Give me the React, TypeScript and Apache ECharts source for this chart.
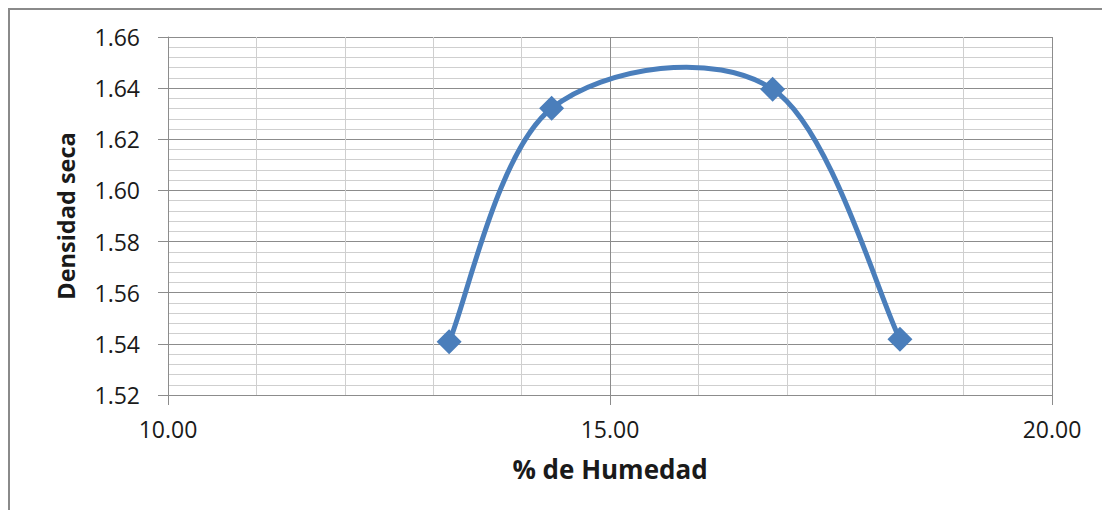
import React, { useEffect, useRef } from "react";
import * as echarts from "echarts";

const humedad = [13.18, 14.34, 16.84, 18.28];
const densidad = [1.5408, 1.6321, 1.6396, 1.5418];
const xTitle = "% de Humedad";
const yTitle = "Densidad seca";

const BLUE = "#4A7EBB";
const FONT = "'Open Sans', sans-serif";

export default function App() {
  const ref = useRef<HTMLDivElement>(null);
  useEffect(() => {
    if (!ref.current) return;
    const chart = echarts.init(ref.current, undefined, { renderer: "svg" });
    const pts = humedad.map((x, i) => [x, densidad[i]]);
    const option: any = {
      animation: false,
      backgroundColor: "#ffffff",
      grid: { left: 160, right: 50, top: 29, bottom: 115, containLabel: false },
      graphic: [
        { type: "line", shape: { x1: 1, y1: 0, x2: 1, y2: 600 }, style: { stroke: "#8a8a8a", lineWidth: 2 } },
        { type: "line", shape: { x1: 0, y1: 1, x2: 1200, y2: 1 }, style: { stroke: "#8a8a8a", lineWidth: 2 } },
      ],
      xAxis: {
        type: "value",
        min: 10,
        max: 20,
        interval: 5,
        name: xTitle,
        nameLocation: "middle",
        nameGap: 61,
        nameTextStyle: { fontFamily: FONT, fontSize: 26, fontWeight: "bold", color: "#1a1a1a" },
        axisLine: { show: true, lineStyle: { color: "#8c8c8c", width: 1 } },
        axisTick: { show: true, length: 10, lineStyle: { color: "#8c8c8c" } },
        axisLabel: {
          fontFamily: FONT,
          fontSize: 23,
          color: "#1a1a1a",
          margin: 22,
          formatter: (v: number) => v.toFixed(2),
        },
        splitLine: { show: true, lineStyle: { color: "#8c8c8c", width: 1 } },
        minorTick: { show: false, splitNumber: 5 },
        minorSplitLine: { show: true, lineStyle: { color: "#cfcfcf", width: 1 } },
      },
      yAxis: {
        type: "value",
        min: 1.52,
        max: 1.66,
        interval: 0.02,
        name: yTitle,
        nameLocation: "middle",
        nameGap: 90,
        nameRotate: 90,
        nameTextStyle: { fontFamily: FONT, fontSize: 23.5, fontWeight: "bold", color: "#1a1a1a" },
        axisLine: { show: true, lineStyle: { color: "#8c8c8c", width: 1 } },
        axisTick: { show: true, inside: false, length: 10, lineStyle: { color: "#8c8c8c" } },
        axisLabel: {
          fontFamily: FONT,
          fontSize: 23,
          color: "#1a1a1a",
          margin: 28,
          formatter: (v: number) => v.toFixed(2),
        },
        splitLine: { show: true, lineStyle: { color: "#8c8c8c", width: 1 } },
        minorTick: { show: false, splitNumber: 5 },
        minorSplitLine: { show: true, lineStyle: { color: "#cfcfcf", width: 1 } },
      },
      series: [
        {
          type: "custom",
          data: pts,
          z: 2,
          clip: false,
          renderItem: (params: any, api: any) => {
            const i = params.dataIndex;
            if (i >= pts.length - 1) return null;
            const P = pts.map((p) => api.coord(p));
            const p0 = P[Math.max(i - 1, 0)];
            const p1 = P[i];
            const p2 = P[i + 1];
            const p3 = P[Math.min(i + 2, P.length - 1)];
            const c1 = [p1[0] + (p2[0] - p0[0]) / 6, p1[1] + (p2[1] - p0[1]) / 6];
            const c2 = [p2[0] - (p3[0] - p1[0]) / 6, p2[1] - (p3[1] - p1[1]) / 6];
            return {
              type: "bezierCurve",
              shape: { x1: p1[0], y1: p1[1], cpx1: c1[0], cpy1: c1[1], cpx2: c2[0], cpy2: c2[1], x2: p2[0], y2: p2[1] },
              style: { stroke: BLUE, lineWidth: 5, fill: "none", lineCap: "round" },
            };
          },
        },
        {
          type: "scatter",
          data: pts,
          z: 3,
          symbol: "diamond",
          symbolSize: 25,
          itemStyle: { color: BLUE, opacity: 1 },
          emphasis: { disabled: true },
        },
      ],
    };
    chart.setOption(option);
    return () => chart.dispose();
  }, []);
  return <div ref={ref} style={{ width: 1094, height: 502 }} />;
}
